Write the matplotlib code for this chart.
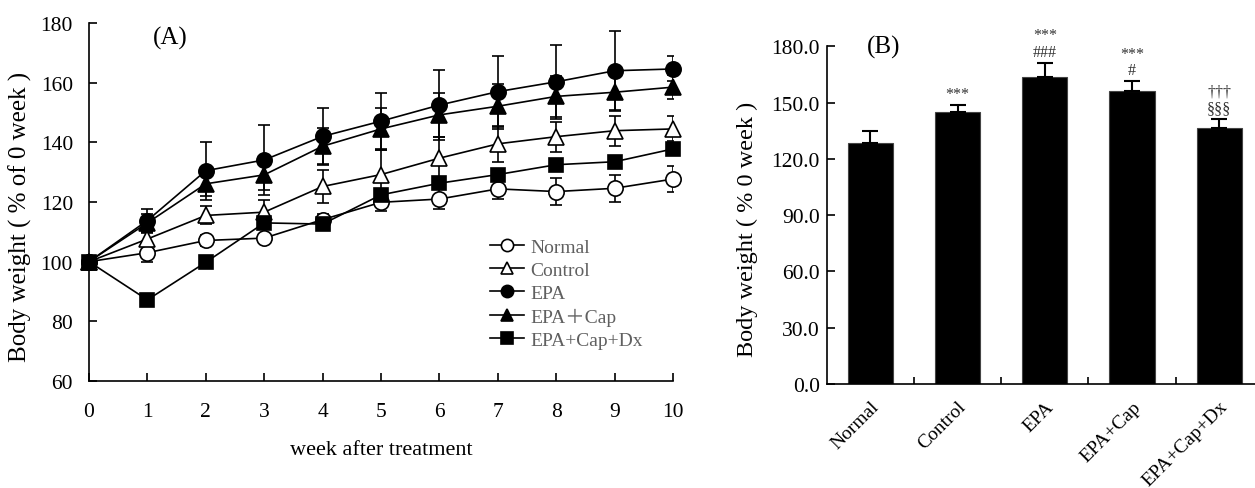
import numpy as np
import matplotlib
matplotlib.use("Agg")
import matplotlib.pyplot as plt

plt.rcParams['font.family'] = ['Liberation Serif', 'Noto Sans CJK JP', 'DejaVu Serif']

# (A) body weight time course, % of week 0
weeks = np.arange(0, 11)
normal = [100, 103.0, 107.1, 107.9, 114.1, 119.9, 121.0, 124.4, 123.5, 124.6, 127.7]
normal_err = [0, 3.0, 2.0, 1.5, 2.0, 3.0, 3.5, 3.5, 4.5, 4.5, 4.5]
control = [100, 107.6, 115.5, 116.6, 125.2, 129.2, 134.7, 139.5, 141.9, 143.9, 144.5]
control_err = [0, 2.0, 3.0, 4.0, 5.5, 8.3, 7.0, 6.0, 5.0, 5.0, 4.2]
epa = [100, 113.8, 130.5, 134.1, 142.0, 147.1, 152.5, 157.0, 160.3, 164.0, 164.6]
epa_err = [0, 4.0, 9.7, 11.7, 9.5, 9.4, 11.8, 11.8, 12.4, 13.4, 4.2]
epa_cap = [100, 113.0, 126.1, 129.1, 138.7, 144.5, 149.2, 152.1, 155.4, 156.8, 158.5]
epa_cap_err = [0, 3.0, 4.0, 5.0, 6.0, 7.0, 7.5, 7.5, 7.0, 6.0, 4.0]
epa_cap_dx = [100, 87.2, 99.8, 113.0, 112.6, 122.4, 126.3, 129.2, 132.5, 133.5, 137.8]
epa_cap_dx_err = [0, 1.0, 1.0, 1.0, 1.5, 1.5, 2.0, 2.0, 2.0, 2.0, 2.0]

# (B) body weight at week 10
groups = ['Normal', 'Control', 'EPA', 'EPA+Cap', 'EPA+Cap+Dx']
final_bw = [128.6, 145.2, 163.8, 156.3, 136.3]
final_err = [6.4, 3.5, 7.5, 5.2, 5.0]
marks = ['', '***', '***\n###', '***\n#', '†††\n§§§']

fig = plt.figure(figsize=(12.55, 4.89), dpi=100)

# ---------- panel A ----------
ax1 = fig.add_axes([0.0709, 0.2188, 0.4654, 0.7321])
series = [
    ('Normal', normal, normal_err, 'o', 'white'),
    ('Control', control, control_err, '^', 'white'),
    ('EPA', epa, epa_err, 'o', 'black'),
    ('EPA＋Cap', epa_cap, epa_cap_err, '^', 'black'),
    ('EPA+Cap+Dx', epa_cap_dx, epa_cap_dx_err, 's', 'black'),
]
for name, y, e, m, fc in series:
    ax1.errorbar(weeks, y, yerr=e, fmt='none', ecolor='black', elinewidth=1.2,
                 capsize=4, capthick=1.2, zorder=2)
for name, y, e, m, fc in series:
    ms = 11 if m != 's' else 10.5
    ax1.plot(weeks, y, color='black', lw=1.2, marker=m, markersize=ms,
             markerfacecolor=fc, markeredgecolor='black', markeredgewidth=1.2,
             label=name, zorder=3, clip_on=False)

ax1.set_xlim(0, 10)
ax1.set_ylim(60, 180)
ax1.set_xticks(range(0, 11))
ax1.set_yticks(range(60, 181, 20))
for s in ['top', 'right']:
    ax1.spines[s].set_visible(False)
for s in ['left', 'bottom']:
    ax1.spines[s].set_linewidth(1.2)
ax1.tick_params(direction='in', length=6, width=1.2, labelsize=15.5)
ax1.tick_params(axis='x', pad=15)
ax1.tick_params(axis='y', pad=11.5)
ax1.set_xlabel('week after treatment', fontsize=16, labelpad=14)
ax1.set_ylabel('Body weight ( % of 0 week )', fontsize=18)
ax1.yaxis.set_label_coords(-0.098, 0.46)
ax1.text(0.11, 0.96, '(A)', transform=ax1.transAxes, fontsize=18, va='center')

leg = ax1.legend(loc='upper left', bbox_to_anchor=(0.687, 0.398), frameon=False,
                 fontsize=14, handlelength=1.75, handletextpad=0.3,
                 labelspacing=0.28, borderpad=0, borderaxespad=0, markerscale=0.8)
for t in leg.get_texts():
    t.set_color('#606060')

# ---------- panel B ----------
ax2 = fig.add_axes([0.6587, 0.2127, 0.3413, 0.6906])
x = np.arange(len(groups))
ax2.bar(x, final_bw, width=0.52, color='black', edgecolor='#444444', linewidth=0.8,
        zorder=2)
ax2.errorbar(x, final_bw, yerr=[np.zeros(len(x)), final_err], fmt='none',
             ecolor='black', elinewidth=1.5, capsize=6, capthick=1.5, zorder=3)
for xi, v, e, mk in zip(x, final_bw, final_err, marks):
    if mk:
        ax2.annotate(mk, (xi, v + e), xytext=(0, 2), textcoords='offset points',
                     ha='center', va='bottom', fontsize=11.5, color='#333333',
                     linespacing=1.05)

ax2.set_xlim(-0.5, 4.41)
ax2.set_ylim(0, 180)
ax2.set_yticks(np.arange(0, 181, 30))
ax2.set_yticklabels(['%.1f' % v for v in np.arange(0, 181, 30)])
ax2.set_xticks(x)
ax2.set_xticklabels(groups, rotation=45, ha='right', rotation_mode='anchor')
ax2.set_xticks(np.arange(0.5, 4.0, 1.0), minor=True)
ax2.tick_params(axis='x', which='major', length=0, labelsize=14, pad=10)
ax2.tick_params(axis='x', which='minor', direction='in', length=5, width=1.2)
ax2.tick_params(axis='y', direction='in', length=6, width=1.2, labelsize=15.5, pad=5)
for s in ['top', 'right']:
    ax2.spines[s].set_visible(False)
for s in ['left', 'bottom']:
    ax2.spines[s].set_linewidth(1.2)
ax2.set_ylabel('Body weight ( % 0 week )', fontsize=17.5)
ax2.yaxis.set_label_coords(-0.16, 0.462)
ax2.text(0.094, 1.0, '(B)', transform=ax2.transAxes, fontsize=18, va='center')

fig.savefig('out.png', dpi=100)
